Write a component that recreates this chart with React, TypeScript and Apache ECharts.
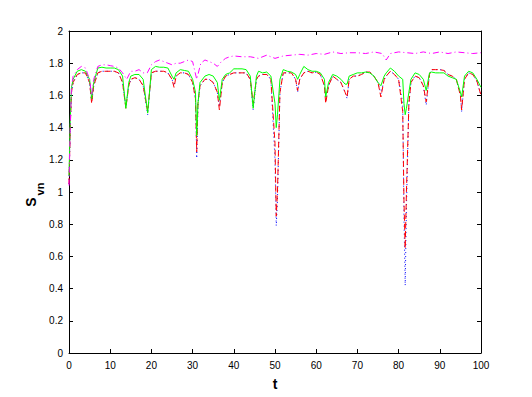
import React, { useEffect, useRef } from "react";
import * as echarts from "echarts";

const T = [0,0.3,0.6,1,2,3,4,5,5.5,6,7,8,9,10,11,12,13,13.8,14.5,15,16,17,18,19.1,20,21,22,23,24,25,25.5,26,27,28,29,30,30.7,31,31.3,31.8,33,34,35,36,36.5,37.2,38,39,40,41,42,43,44,44.7,45.5,46,47,48,49,50,50.3,50.6,51.2,52,53,54,55,55.5,56,57,58,59,60,61,62,62.3,63,64,65,66,67,67.5,68,69,70,71,72,73,74,75,75.7,76.5,77,78,79,80,81,81.3,81.6,81.9,82.5,83,84,85,86,86.7,87.5,88,89,90,91,92,93,94,95,95.3,96,97,98,99,100];

const green = [1.1,1.45,1.65,1.70,1.75,1.76,1.75,1.70,1.58,1.68,1.77,1.775,1.77,1.77,1.77,1.76,1.72,1.52,1.68,1.72,1.73,1.73,1.70,1.49,1.76,1.78,1.775,1.775,1.77,1.72,1.70,1.74,1.76,1.755,1.75,1.70,1.62,1.35,1.55,1.68,1.72,1.73,1.72,1.68,1.57,1.70,1.73,1.74,1.765,1.765,1.765,1.76,1.72,1.52,1.72,1.75,1.74,1.745,1.72,1.55,1.40,1.48,1.70,1.76,1.75,1.745,1.73,1.70,1.73,1.78,1.76,1.75,1.75,1.74,1.70,1.59,1.68,1.73,1.72,1.70,1.67,1.67,1.72,1.73,1.74,1.74,1.745,1.74,1.72,1.68,1.66,1.72,1.74,1.77,1.75,1.72,1.70,1.55,1.48,1.52,1.62,1.70,1.74,1.73,1.70,1.63,1.74,1.745,1.74,1.74,1.74,1.72,1.71,1.70,1.62,1.59,1.72,1.75,1.74,1.70,1.65];

const red = [1.05,1.40,1.62,1.68,1.73,1.74,1.74,1.68,1.55,1.66,1.74,1.75,1.75,1.75,1.75,1.74,1.68,1.52,1.66,1.70,1.71,1.70,1.66,1.50,1.74,1.75,1.75,1.75,1.74,1.70,1.65,1.72,1.74,1.74,1.73,1.68,1.58,1.25,1.55,1.66,1.70,1.70,1.68,1.62,1.51,1.68,1.72,1.73,1.74,1.74,1.74,1.74,1.70,1.55,1.70,1.72,1.73,1.73,1.70,1.30,0.85,1.00,1.62,1.74,1.74,1.74,1.70,1.63,1.70,1.74,1.75,1.74,1.745,1.73,1.66,1.55,1.66,1.72,1.70,1.68,1.62,1.59,1.70,1.72,1.72,1.73,1.745,1.745,1.72,1.68,1.59,1.70,1.72,1.75,1.73,1.70,1.50,0.95,0.65,1.00,1.55,1.68,1.72,1.71,1.66,1.56,1.73,1.76,1.76,1.76,1.755,1.73,1.72,1.70,1.60,1.51,1.70,1.74,1.73,1.69,1.60];

const blue = [1.05,1.40,1.62,1.68,1.73,1.74,1.74,1.68,1.56,1.66,1.74,1.75,1.75,1.75,1.75,1.74,1.68,1.53,1.66,1.70,1.71,1.70,1.66,1.48,1.74,1.75,1.75,1.75,1.74,1.70,1.66,1.72,1.74,1.74,1.73,1.68,1.58,1.21,1.55,1.66,1.70,1.70,1.68,1.62,1.53,1.68,1.72,1.73,1.74,1.74,1.74,1.74,1.70,1.51,1.70,1.72,1.73,1.73,1.70,1.20,0.79,0.95,1.62,1.74,1.74,1.74,1.70,1.62,1.70,1.74,1.75,1.74,1.745,1.73,1.66,1.57,1.66,1.72,1.70,1.68,1.62,1.58,1.70,1.72,1.72,1.73,1.745,1.745,1.72,1.68,1.61,1.70,1.72,1.75,1.73,1.70,1.55,0.85,0.42,0.90,1.55,1.68,1.72,1.71,1.66,1.54,1.73,1.76,1.76,1.76,1.755,1.73,1.72,1.70,1.60,1.50,1.70,1.74,1.73,1.69,1.60];

const TM = [0,0.3,0.6,1,2,3,4,5,5.5,6,7,8,9,10,11,12,13,14,15,16,17,18,19,20,21,22,23,24,25,26,27,28,29,30,31,32,33,34,35,36,37,38,39,40,42,44,46,48,50,52,54,56,58,60,62,64,66,68,70,72,74,76,77,78,80,82,84,86,88,90,92,94,96,98,100];
const magenta = [1.04,1.4,1.65,1.72,1.76,1.78,1.77,1.70,1.60,1.70,1.78,1.79,1.79,1.785,1.78,1.77,1.74,1.70,1.75,1.75,1.76,1.74,1.74,1.79,1.81,1.82,1.81,1.80,1.79,1.80,1.80,1.81,1.82,1.81,1.70,1.80,1.82,1.81,1.80,1.78,1.81,1.83,1.84,1.845,1.84,1.84,1.83,1.85,1.83,1.845,1.85,1.855,1.85,1.86,1.855,1.87,1.86,1.865,1.865,1.86,1.87,1.86,1.82,1.86,1.87,1.865,1.86,1.87,1.86,1.87,1.86,1.87,1.865,1.86,1.865];

const zip = (xs: number[], ys: number[]) => xs.map((x, i) => [x, ys[i]]);

export default function App() {
  const ref = useRef<HTMLDivElement>(null);
  useEffect(() => {
    if (!ref.current) return;
    const chart = echarts.init(ref.current, null, { renderer: "svg" });
    const font = "Liberation Sans, Arial, Helvetica, sans-serif";
    const tickCommon = { inside: true, length: 4, lineStyle: { color: "#000" } };
    const lineCommon = { show: true, onZero: false, lineStyle: { color: "#000", width: 1 } };
    chart.setOption({
      animation: false,
      backgroundColor: "#fff",
      grid: { left: 69, right: 51, top: 31, bottom: 44, show: false },
      xAxis: [
        {
          type: "value", min: 0, max: 100, interval: 10,
          axisLine: lineCommon, axisTick: tickCommon, splitLine: { show: false },
          axisLabel: { color: "#000", fontSize: 10, fontFamily: font, margin: 7 },
          name: "t", nameLocation: "middle", nameGap: 24,
          nameTextStyle: { color: "#000", fontSize: 14, fontWeight: "bold", fontFamily: font },
        },
        {
          type: "value", position: "top", min: 0, max: 100, interval: 10,
          axisLine: lineCommon, axisTick: tickCommon, splitLine: { show: false },
          axisLabel: { show: false },
        },
      ],
      yAxis: [
        {
          type: "value", min: 0, max: 2, interval: 0.2,
          axisLine: lineCommon, axisTick: tickCommon, splitLine: { show: false },
          axisLabel: { color: "#000", fontSize: 10, fontFamily: font, margin: 6 },
        },
        {
          type: "value", position: "right", min: 0, max: 2, interval: 0.2,
          axisLine: lineCommon, axisTick: tickCommon, splitLine: { show: false },
          axisLabel: { show: false },
        },
      ],
      graphic: [
        {
          type: "text", x: 31, y: 202, rotation: Math.PI / 2,
          style: { text: "S", fontSize: 14, fontWeight: "bold", fontFamily: font, fill: "#000", align: "center", verticalAlign: "middle" },
        },
        {
          type: "text", x: 40, y: 189, rotation: Math.PI / 2,
          style: { text: "vn", fontSize: 11, fontWeight: "bold", fontFamily: font, fill: "#000", align: "center", verticalAlign: "middle" },
        },
      ],
      series: [
        { type: "line", data: zip(T, blue), showSymbol: false, lineStyle: { color: "#0000ff", width: 1, type: [1, 3] } },
        { type: "line", data: zip(T, red), showSymbol: false, lineStyle: { color: "#ff0000", width: 1, type: [6, 3] } },
        { type: "line", data: zip(T, green), showSymbol: false, lineStyle: { color: "#00ff00", width: 1 } },
        { type: "line", data: zip(TM, magenta), showSymbol: false, lineStyle: { color: "#ff00ff", width: 1, type: [6, 3, 1, 3] } },
      ],
    });
    return () => chart.dispose();
  }, []);
  return <div ref={ref} style={{ width: 532, height: 397, position: "absolute", left: 0, top: 0 }} />;
}
